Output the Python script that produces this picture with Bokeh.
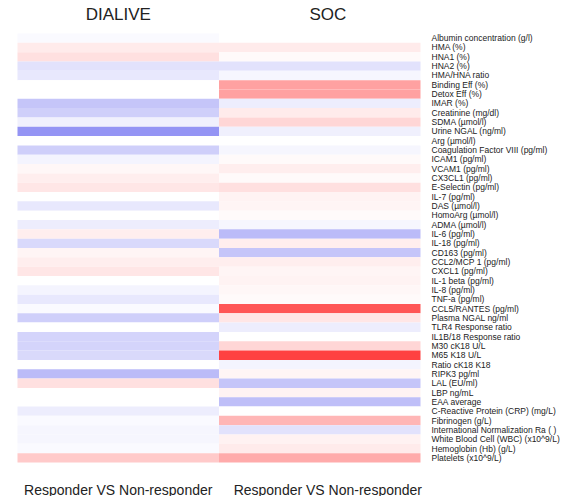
from bokeh.plotting import figure
from bokeh.models import ColumnDataSource, Range1d, LinearColorMapper
from bokeh.transform import transform
from bokeh.core.properties import value
from bokeh.embed import file_html
from bokeh.resources import INLINE

# ---------------- data ----------------
groups = ["DIALIVE", "SOC"]
comparison = ["Responder VS Non-responder", "Responder VS Non-responder"]

markers = [
    "Albumin concentration (g/l)", "HMA (%)", "HNA1 (%)", "HNA2 (%)", "HMA/HNA ratio",
    "Binding Eff (%)", "Detox Eff (%)", "IMAR (%)", "Creatinine (mg/dl)", "SDMA (µmol/l)",
    "Urine NGAL (ng/ml)", "Arg (µmol/l)", "Coagulation Factor VIII (pg/ml)", "ICAM1 (pg/ml)",
    "VCAM1 (pg/ml)", "CX3CL1 (pg/ml)", "E-Selectin (pg/ml)", "IL-7 (pg/ml)", "DAS (µmol/l)",
    "HomoArg (µmol/l)", "ADMA (µmol/l)", "IL-6 (pg/ml)", "IL-18 (pg/ml)", "CD163 (pg/ml)",
    "CCL2/MCP 1 (pg/ml)", "CXCL1 (pg/ml)", "IL-1 beta (pg/ml)", "IL-8 (pg/ml)", "TNF-a (pg/ml)",
    "CCL5/RANTES (pg/ml)", "Plasma NGAL ng/ml", "TLR4 Response ratio", "IL1B/18 Response ratio",
    "M30 cK18 U/L", "M65 K18 U/L", "Ratio cK18 K18", "RIPK3 pg/ml", "LAL (EU/ml)", "LBP ng/mL",
    "EAA average", "C-Reactive Protein (CRP) (mg/L)", "Fibrinogen (g/L)",
    "International Normalization Ra ( )", "White Blood Cell (WBC) (x10^9/L)",
    "Hemoglobin (Hb) (g/L)", "Platelets (x10^9/L)",
]

dialive = [
    -0.03, 0.10, 0.15, -0.15, -0.12,
    0.00, 0.00, -0.30, -0.25, -0.08,
    -0.55, 0.00, -0.25, -0.06,
    0.04, 0.08, 0.12, 0.00, -0.12,
    0.00, -0.10, 0.08, -0.20, 0.05,
    0.08, 0.12, 0.00, -0.06, -0.12,
    -0.03, -0.25, 0.00, -0.22,
    -0.22, -0.20, 0.00, -0.35, 0.15, 0.00,
    0.00, -0.10, -0.03,
    -0.05, -0.05,
    -0.03, 0.25,
]

soc = [
    0.00, 0.10, 0.03, -0.15, -0.05,
    0.45, 0.45, -0.10, 0.10, 0.20,
    -0.08, 0.00, -0.05, 0.03,
    0.08, 0.03, 0.15, 0.06, 0.05,
    0.03, -0.05, -0.35, 0.08, -0.30,
    0.08, 0.05, 0.06, 0.04, 0.03,
    0.80, 0.12, -0.10, 0.00,
    0.20, 0.90, -0.06, 0.05, -0.30, 0.06,
    -0.33, 0.00, 0.35,
    -0.15, 0.07,
    0.10, 0.40,
]

# ---------------- palette (blue - white - red) ----------------
def lerp(c1, c2, t):
    return tuple(int(round(a + (b - a) * t)) for a, b in zip(c1, c2))

BLUE = (60, 60, 235)
WHITE = (255, 255, 255)
RED = (255, 45, 45)
N = 128
palette = []
for k in range(N):
    palette.append("#%02x%02x%02x" % lerp(BLUE, WHITE, k / (N - 1)))
for k in range(N):
    palette.append("#%02x%02x%02x" % lerp(WHITE, RED, k / (N - 1)))
mapper = LinearColorMapper(palette=palette, low=-1, high=1)

# ---------------- layout geometry ----------------
W, H = 560, 496
COL_PX = 201.5
ROW_PX = 9.326
LEFT0, TOP0 = 17, 33
x_start = -0.5 - LEFT0 / COL_PX
x_end = x_start + W / COL_PX
y_top = -0.5 - TOP0 / ROW_PX
y_bottom = y_top + H / ROW_PX

def fx(px):
    return x_start + px / COL_PX

def fy(px):
    return y_top + px / ROW_PX

p = figure(width=W, height=H, output_backend="svg", toolbar_location=None,
           x_range=Range1d(x_start, x_end), y_range=Range1d(y_bottom, y_top),
           min_border=0, x_axis_location=None, y_axis_location=None)
p.grid.visible = False
p.outline_line_color = None
p.background_fill_color = "white"
p.border_fill_color = "white"

xs, ys, vals = [], [], []
for gi, series in enumerate([dialive, soc]):
    for ri, v in enumerate(series):
        xs.append(gi)
        ys.append(ri)
        vals.append(v)
src = ColumnDataSource(dict(x=xs, y=ys, v=vals))
p.rect(x="x", y="y", width=1, height=1, source=src,
       fill_color=transform("v", mapper), line_color=None)

font = value("Liberation Sans")

# row labels
lab_src = ColumnDataSource(dict(x=[fx(431)] * len(markers), y=list(range(len(markers))), t=markers))
p.text(x="x", y="y", text="t", source=lab_src, text_font=font, text_font_size="8.5px",
       text_align="left", text_baseline="middle", text_color="#222222")

# group titles (top)
top_src = ColumnDataSource(dict(x=[0.0, 1.04], y=[fy(14)] * len(groups), t=groups))
p.text(x="x", y="y", text="t", source=top_src, text_font=font, text_font_size="17px",
       text_align="center", text_baseline="middle", text_color="#222222")

# comparison titles (bottom)
bot_src = ColumnDataSource(dict(x=[0.0, 1.04], y=[fy(489)] * 2, t=comparison))
p.text(x="x", y="y", text="t", source=bot_src, text_font=font, text_font_size="14px",
       text_align="center", text_baseline="middle", text_color="#222222")

open("out.html", "w").write(file_html(p, INLINE))
